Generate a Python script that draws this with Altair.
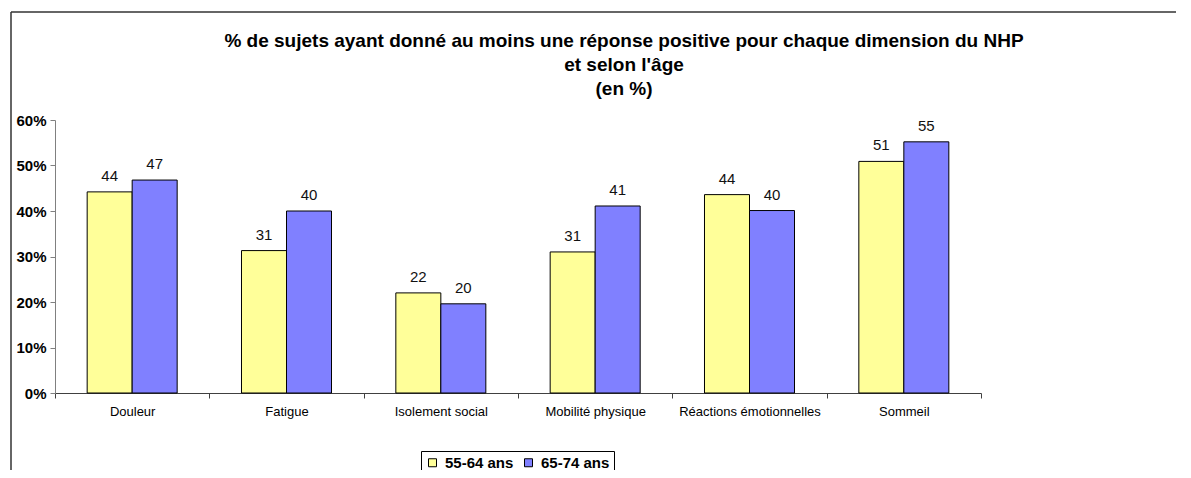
import altair as alt
import pandas as pd

categories = ["Douleur", "Fatigue", "Isolement social", "Mobilité physique",
              "Réactions émotionnelles", "Sommeil"]
series = ["55-64 ans", "65-74 ans"]
values_55_64 = [44.2, 31.3, 22.0, 31.0, 43.6, 50.9]
values_65_74 = [46.8, 40.0, 19.6, 41.1, 40.1, 55.2]
colors = ["#FFFF99", "#8080FF"]
y_ticks = [0, 10, 20, 30, 40, 50, 60]

rows = []
for i, c in enumerate(categories):
    rows.append({"cat": c, "age": series[0], "val": values_55_64[i]})
    rows.append({"cat": c, "age": series[1], "val": values_65_74[i]})
df = pd.DataFrame(rows)

FONT = "Liberation Sans"

x_enc = alt.X("cat:N", sort=categories, title=None,
              scale=alt.Scale(paddingInner=0, paddingOuter=0),
              axis=alt.Axis(labelAngle=0, tickBand="extent", labelFont=FONT,
                            labelFontSize=13, labelColor="black", labelPadding=7,
                            tickSize=5, domainColor="#404040", tickColor="#404040",
                            grid=False))
xo_enc = alt.XOffset("age:N", sort=series,
                     scale=alt.Scale(paddingInner=0, paddingOuter=0.7147))
y_enc = alt.Y("val:Q", title=None,
              scale=alt.Scale(domain=[0, 60], nice=False),
              axis=alt.Axis(values=y_ticks, labelExpr="datum.value + '%'",
                            labelFont=FONT, labelFontSize=15, labelFontWeight="bold",
                            labelColor="black", tickSize=5, labelPadding=4,
                            domainColor="#808080", tickColor="#808080", grid=False))

bars = alt.Chart(df).mark_bar(stroke="black", strokeWidth=1).encode(
    x=x_enc, xOffset=xo_enc, y=y_enc,
    color=alt.Color("age:N", sort=series,
                    scale=alt.Scale(domain=series, range=colors),
                    legend=alt.Legend(title=None, orient="none", legendX=366, legendY=331,
                                      direction="horizontal", columns=2,
                                      strokeColor="black", padding=4, fillColor="white",
                                      symbolType="square", symbolSize=64,
                                      symbolStrokeColor="black", symbolStrokeWidth=1,
                                      labelFont=FONT, labelFontSize=15,
                                      labelFontWeight="bold", labelColor="black",
                                      labelOffset=5, columnPadding=7, symbolOpacity=1))
)

labels = alt.Chart(df).mark_text(baseline="bottom", dy=-8, font=FONT, fontSize=15,
                                 color="#111111").encode(
    x=alt.X("cat:N", sort=categories), xOffset=alt.XOffset("age:N", sort=series),
    y="val:Q", text=alt.Text("val:Q", format=".0f")
)

frame_df = pd.DataFrame({"k": [0]})
top_line = alt.Chart(frame_df).mark_rule(color="#333333", strokeWidth=1.5).encode(
    x=alt.value(-44), x2=alt.value(1200), y=alt.value(-108))
left_line = alt.Chart(frame_df).mark_rule(color="#333333", strokeWidth=1.5).encode(
    x=alt.value(-44), y=alt.value(-108), y2=alt.value(420))

chart = alt.layer(bars, labels, top_line, left_line).properties(
    width=926, height=273,
    padding={"left": 47, "top": 112, "right": 195, "bottom": 77},
    autosize=alt.AutoSizeParams(type="none"),
    background="white",
    title=alt.TitleParams(
        ["% de sujets ayant donné au moins une réponse positive pour chaque dimension du NHP",
         "et selon l'âge", "(en %)"],
        font=FONT, fontSize=19, fontWeight="bold", color="black",
        anchor="middle", dx=106, offset=-88, lineHeight=24),
).configure_view(stroke=None)

chart.save("out.html", embed_options={"renderer": "svg", "actions": False})
